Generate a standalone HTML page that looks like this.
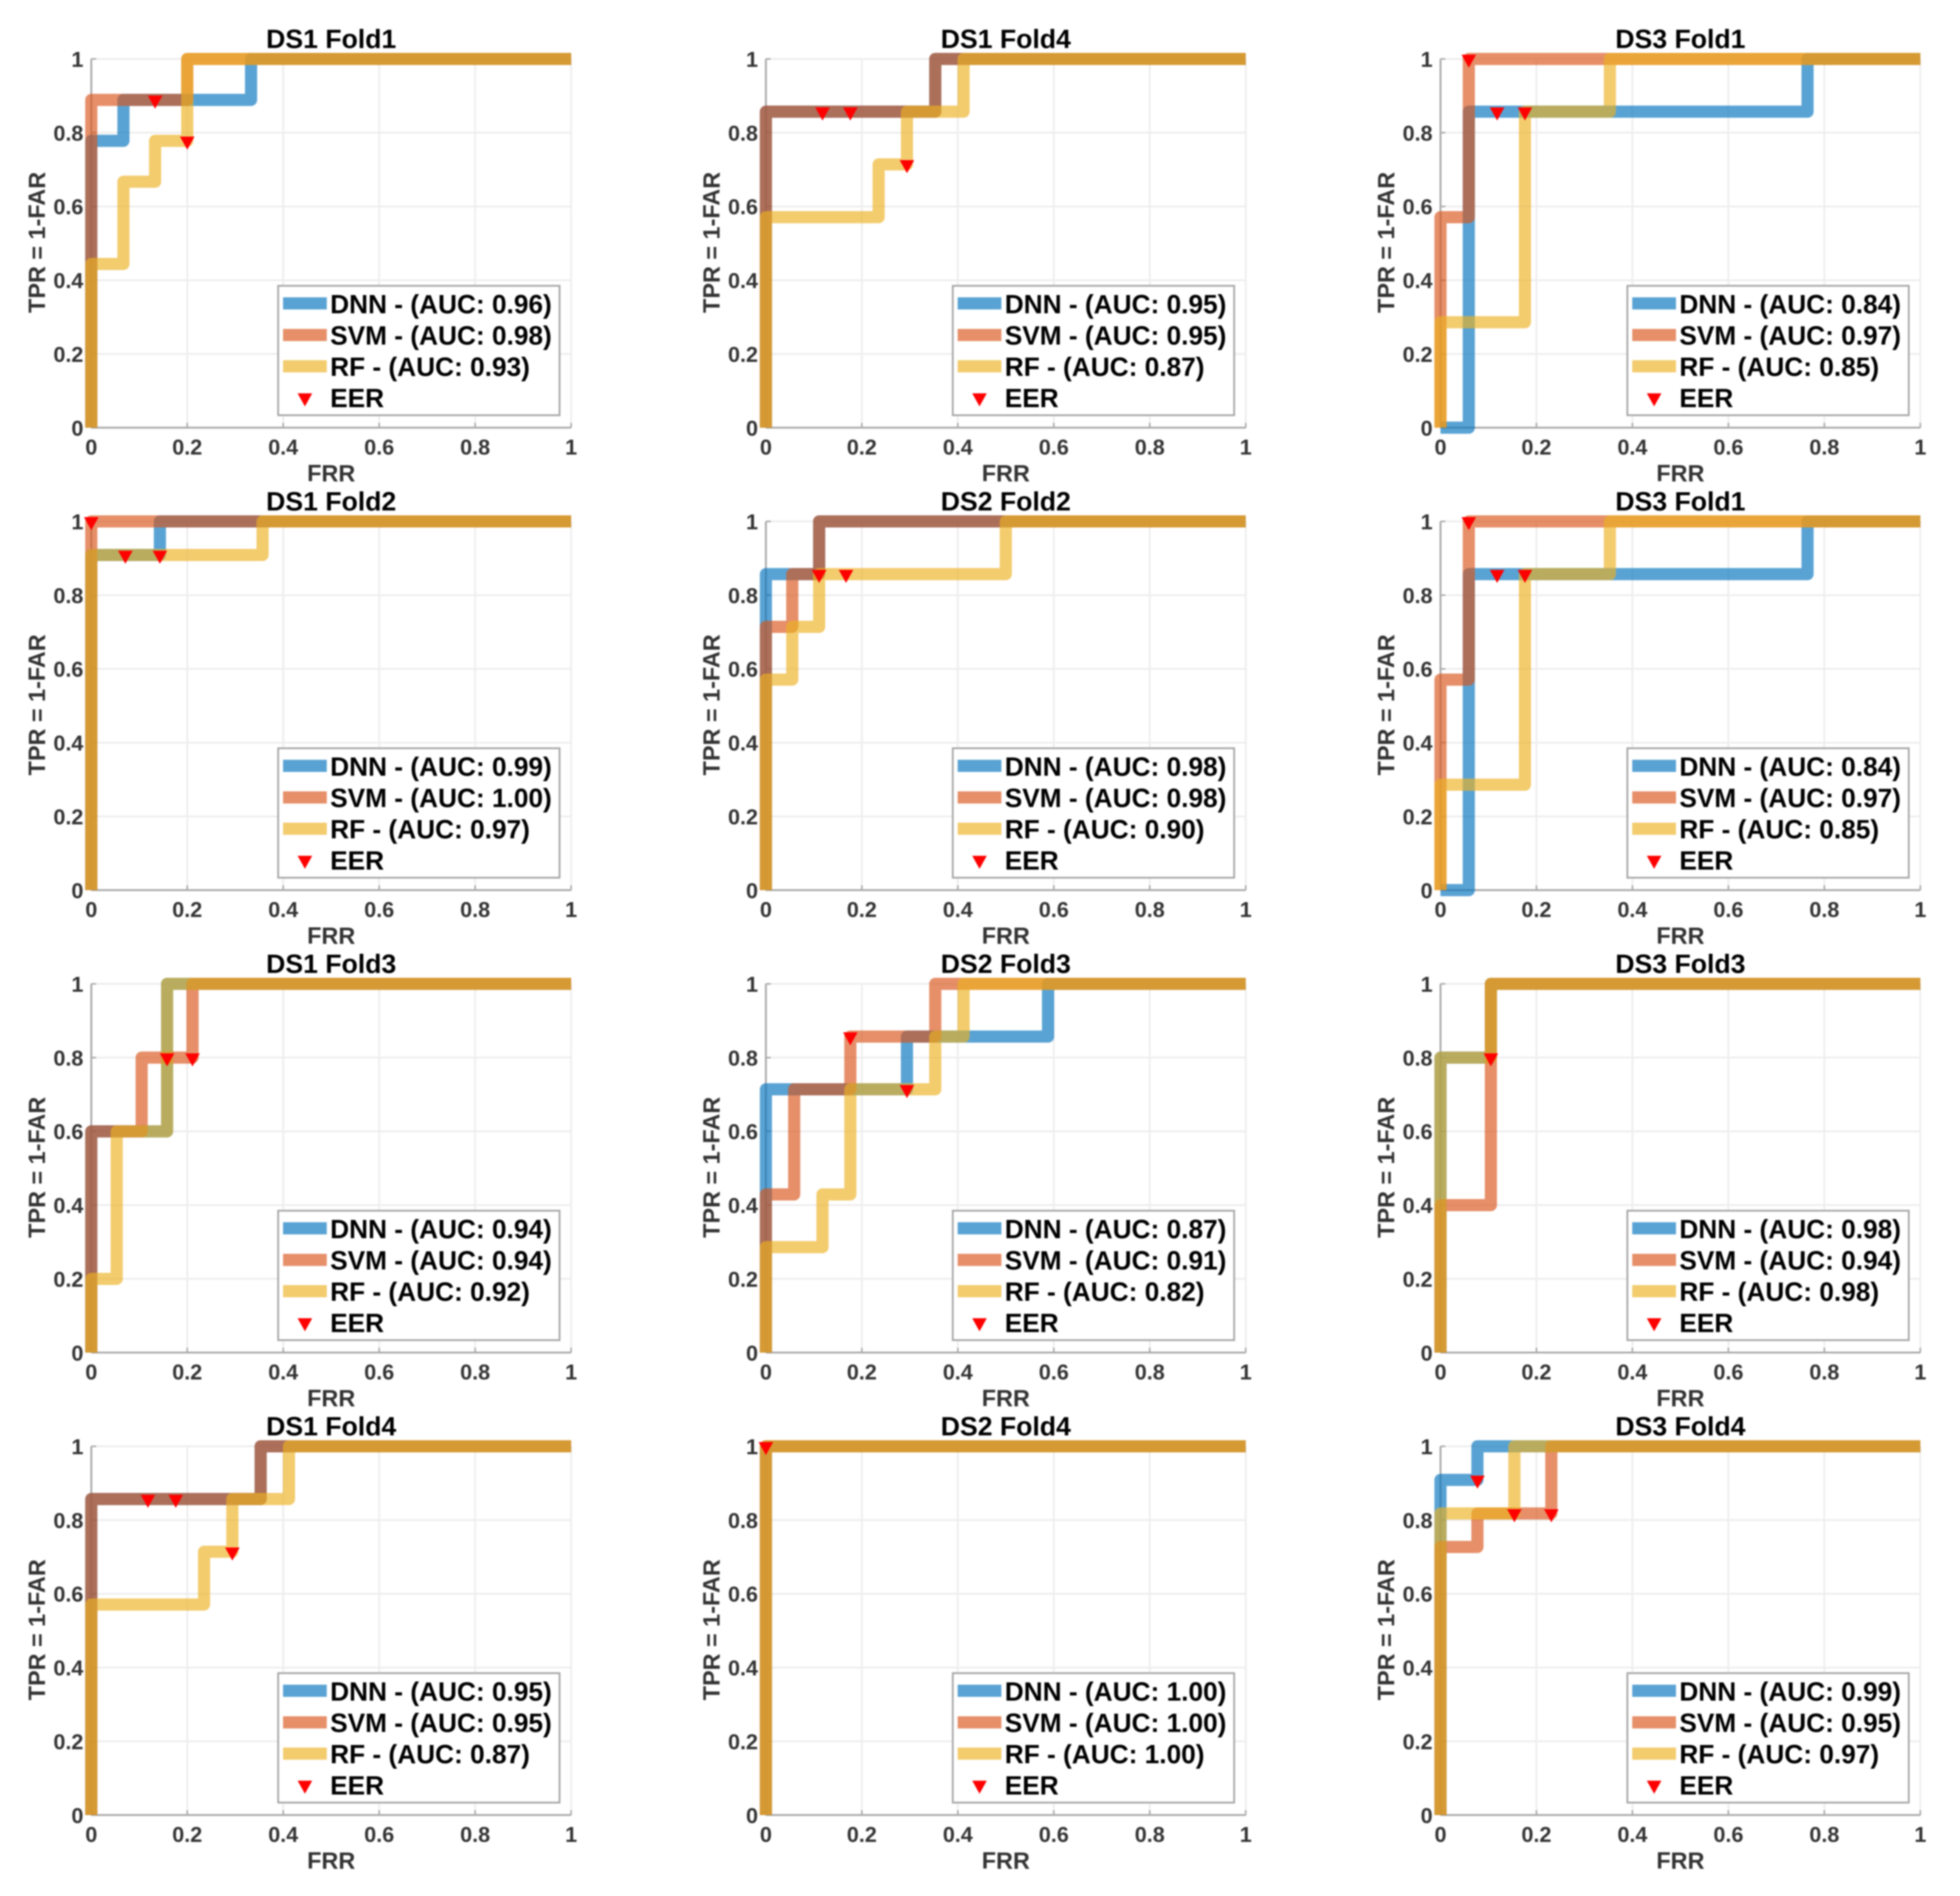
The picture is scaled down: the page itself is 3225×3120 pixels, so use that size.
<!DOCTYPE html>
<html lang="en">
<head>
<meta charset="utf-8">
<title>ROC curves per dataset and fold</title>
<style>
  html, body { margin: 0; padding: 0; background: #fff; }
  #figure { display: block; width: 3225px; height: 3120px; filter: blur(1.4px); font-family: "Liberation Sans", Arial, sans-serif; }
</style>
</head>
<body>
<svg id="figure" xmlns="http://www.w3.org/2000/svg" width="3225" height="3120" viewBox="0 0 3225 3120">
  <rect x="0" y="0" width="3225" height="3120" fill="#ffffff"/>
</svg>
<script>
// Panels are listed column by column, top to bottom.
const panelTitles = ["DS1 Fold1","DS1 Fold2","DS1 Fold3","DS1 Fold4","DS1 Fold4","DS2 Fold2","DS2 Fold3","DS2 Fold4","DS3 Fold1","DS3 Fold1","DS3 Fold3","DS3 Fold4"];
const tickValues = [0, 0.2, 0.4, 0.6, 0.8, 1];
const tickLabels = ["0", "0.2", "0.4", "0.6", "0.8", "1"];
const xAxisTitle = "FRR";
const yAxisTitle = "TPR = 1-FAR";
const aucDnn = ["0.96","0.99","0.94","0.95","0.95","0.98","0.87","1.00","0.84","0.84","0.98","0.99"];
const aucSvm = ["0.98","1.00","0.94","0.95","0.95","0.98","0.91","1.00","0.97","0.97","0.94","0.95"];
const aucRf  = ["0.93","0.97","0.92","0.87","0.87","0.90","0.82","1.00","0.85","0.85","0.98","0.97"];

const dnnFrr = [
  [0,0,0.067,0.067,0.333,0.333,1],
  [0,0,0.143,0.143,1],
  [0,0,0.158,0.158,1],
  [0,0,0.353,0.353,1],
  [0,0,0.353,0.353,1],
  [0,0,0.111,0.111,1],
  [0,0,0.294,0.294,0.588,0.588,1],
  [0,0,1],
  [0,0.059,0.059,0.765,0.765,1],
  [0,0.059,0.059,0.765,0.765,1],
  [0,0,0.105,0.105,1],
  [0,0,0.077,0.077,1]
];
const dnnTpr = [
  [0,0.778,0.778,0.889,0.889,1,1],
  [0,0.909,0.909,1,1],
  [0,0.6,0.6,1,1],
  [0,0.857,0.857,1,1],
  [0,0.857,0.857,1,1],
  [0,0.857,0.857,1,1],
  [0,0.714,0.714,0.857,0.857,1,1],
  [0,1,1],
  [0,0,0.857,0.857,1,1],
  [0,0,0.857,0.857,1,1],
  [0,0.8,0.8,1,1],
  [0,0.909,0.909,1,1]
];
const svmFrr = [
  [0,0,0.2,0.2,1],
  [0,0,1],
  [0,0,0.105,0.105,0.211,0.211,1],
  [0,0,0.353,0.353,1],
  [0,0,0.353,0.353,1],
  [0,0,0.055,0.055,0.111,0.111,1],
  [0,0,0.059,0.059,0.176,0.176,0.353,0.353,1],
  [0,0,1],
  [0,0,0.059,0.059,1],
  [0,0,0.059,0.059,1],
  [0,0,0.105,0.105,1],
  [0,0,0.077,0.077,0.231,0.231,1]
];
const svmTpr = [
  [0,0.889,0.889,1,1],
  [0,1,1],
  [0,0.6,0.6,0.8,0.8,1,1],
  [0,0.857,0.857,1,1],
  [0,0.857,0.857,1,1],
  [0,0.714,0.714,0.857,0.857,1,1],
  [0,0.429,0.429,0.714,0.714,0.857,0.857,1,1],
  [0,1,1],
  [0,0.571,0.571,1,1],
  [0,0.571,0.571,1,1],
  [0,0.4,0.4,1,1],
  [0,0.727,0.727,0.818,0.818,1,1]
];
const rfFrr = [
  [0,0,0.067,0.067,0.133,0.133,0.2,0.2,1],
  [0,0,0.357,0.357,1],
  [0,0,0.053,0.053,0.158,0.158,1],
  [0,0,0.235,0.235,0.294,0.294,0.412,0.412,1],
  [0,0,0.235,0.235,0.294,0.294,0.412,0.412,1],
  [0,0,0.055,0.055,0.111,0.111,0.5,0.5,1],
  [0,0,0.118,0.118,0.176,0.176,0.353,0.353,0.412,0.412,1],
  [0,0,1],
  [0,0,0.176,0.176,0.353,0.353,1],
  [0,0,0.176,0.176,0.353,0.353,1],
  [0,0,0.105,0.105,1],
  [0,0,0.154,0.154,1]
];
const rfTpr = [
  [0,0.444,0.444,0.667,0.667,0.778,0.778,1,1],
  [0,0.909,0.909,1,1],
  [0,0.2,0.2,0.6,0.6,1,1],
  [0,0.571,0.571,0.714,0.714,0.857,0.857,1,1],
  [0,0.571,0.571,0.714,0.714,0.857,0.857,1,1],
  [0,0.571,0.571,0.714,0.714,0.857,0.857,1,1],
  [0,0.286,0.286,0.429,0.429,0.714,0.714,0.857,0.857,1,1],
  [0,1,1],
  [0,0.286,0.286,0.857,0.857,1,1],
  [0,0.286,0.286,0.857,0.857,1,1],
  [0,0.8,0.8,1,1],
  [0,0.818,0.818,1,1]
];
const eerFrr = [
  [0.133,0.2],
  [0,0.071,0.143],
  [0.158,0.211],
  [0.118,0.176,0.294],
  [0.118,0.176,0.294],
  [0.111,0.167],
  [0.176,0.294],
  [0],
  [0.059,0.118,0.176],
  [0.059,0.118,0.176],
  [0.105],
  [0.077,0.154,0.231]
];
const eerTpr = [
  [0.889,0.778],
  [1,0.909,0.909],
  [0.8,0.8],
  [0.857,0.857,0.714],
  [0.857,0.857,0.714],
  [0.857,0.857],
  [0.857,0.714],
  [1],
  [1,0.857,0.857],
  [1,0.857,0.857],
  [0.8],
  [0.909,0.818,0.818]
];

const NS = "http://www.w3.org/2000/svg";
const figure = document.getElementById("figure");
const PLOT_W = 789.5;
const PLOT_H = 606.8;
const COL_X = [150.2, 1260.2, 2370.2];
const ROW_Y = [97, 858, 1619, 2380];
const COLORS = { dnn: "#0072BD", svm: "#D95319", rf: "#EDB120" };
const GRID = "#eeeeee";
const AXIS = "#a8a8a8";
const INK = "#333333";

function make(parent, tag, attrs, text) {
  const el = document.createElementNS(NS, tag);
  for (const k in attrs) el.setAttribute(k, attrs[k]);
  if (text !== undefined) el.textContent = text;
  parent.appendChild(el);
  return el;
}

function triangle(parent, cx, cy) {
  const pts = [[cx - 12, cy - 7], [cx + 12, cy - 7], [cx, cy + 14.5]];
  return make(parent, "polygon", { points: pts.map(p => p.join(",")).join(" "), fill: "#ff0000" });
}

function drawCurve(parent, frr, tpr, color, sx, sy) {
  const pts = frr.map((f, i) => sx(f).toFixed(2) + "," + sy(tpr[i]).toFixed(2)).join(" ");
  return make(parent, "polyline", {
    points: pts, fill: "none", stroke: color, "stroke-width": 20,
    "stroke-opacity": 0.65, "stroke-linejoin": "round", "stroke-linecap": "butt"
  });
}

function drawPanel(i) {
  const col = Math.floor(i / 4);
  const row = i % 4;
  const x0 = COL_X[col];
  const yTop = ROW_Y[row];
  const yBot = yTop + PLOT_H;
  const sx = v => x0 + v * PLOT_W;
  const sy = v => yBot - v * PLOT_H;

  const g = make(figure, "g", {});
  
  

  tickValues.forEach((t, k) => {
    const gx = make(g, "line", { x1: sx(t), x2: sx(t), y1: yTop, y2: yBot, stroke: GRID, "stroke-width": 3 });
    
    
    const gy = make(g, "line", { x1: x0, x2: x0 + PLOT_W, y1: sy(t), y2: sy(t), stroke: GRID, "stroke-width": 3 });
    
    
  });

  const xAxis = make(g, "line", { x1: x0, x2: x0 + PLOT_W, y1: yBot, y2: yBot, stroke: AXIS, "stroke-width": 3 });
  
  
  const yAxis = make(g, "line", { x1: x0, x2: x0, y1: yTop, y2: yBot, stroke: AXIS, "stroke-width": 3 });
  
  

  tickValues.forEach((t, k) => {
    const tx = make(g, "line", { x1: sx(t), x2: sx(t), y1: yBot, y2: yBot - 8, stroke: AXIS, "stroke-width": 2.5 });
    
    
    const ty = make(g, "line", { x1: x0, x2: x0 + 8, y1: sy(t), y2: sy(t), stroke: AXIS, "stroke-width": 2.5 });
    
    
    const lx = make(g, "text", { x: sx(t), y: yBot + 44, "text-anchor": "middle", "font-size": 35.5, "font-weight": "bold", fill: INK }, tickLabels[k]);
    
    
    const ly = make(g, "text", { x: x0 - 13, y: sy(t) + 13, "text-anchor": "end", "font-size": 35.5, "font-weight": "bold", fill: INK }, tickLabels[k]);
    
    
  });

  const title = make(g, "text", { x: x0 + PLOT_W / 2, y: yTop - 18, "text-anchor": "middle", "font-size": 43.8, "font-weight": "bold", fill: "#000000" }, panelTitles[i]);
  
  

  const xt = make(g, "text", { x: x0 + PLOT_W / 2, y: yBot + 88, "text-anchor": "middle", "font-size": 38.5, "font-weight": "bold", fill: INK }, xAxisTitle);
  
  

  const yCenter = (yTop + yBot) / 2 - 1.5;
  const yt = make(g, "text", { x: 0, y: 0, transform: "translate(" + (x0 - 76) + "," + yCenter + ") rotate(-90)", "text-anchor": "middle", "font-size": 38.5, "font-weight": "bold", fill: INK }, yAxisTitle);
  
  

  const dnnLine = drawCurve(g, dnnFrr[i], dnnTpr[i], COLORS.dnn, sx, sy);
  
  
  const svmLine = drawCurve(g, svmFrr[i], svmTpr[i], COLORS.svm, sx, sy);
  
  
  const rfLine = drawCurve(g, rfFrr[i], rfTpr[i], COLORS.rf, sx, sy);
  
  

  eerFrr[i].forEach((f, k) => {
    const m = triangle(g, sx(f), sy(eerTpr[i][k]));
    
    
  });

  const lx = x0 + 307.5;
  const ly = yBot - 233.5;
  const legend = make(g, "g", {});
  
  
  const box = make(legend, "rect", { x: lx, y: ly, width: 463, height: 213, fill: "#ffffff", stroke: AXIS, "stroke-width": 3 });
  
  

  const s1 = make(legend, "line", { x1: lx + 8, x2: lx + 80, y1: ly + 29, y2: ly + 29, stroke: COLORS.dnn, "stroke-width": 20, "stroke-opacity": 0.65 });
  
  
  const t1 = make(legend, "text", { x: lx + 85.5, y: ly + 45, "font-size": 43.2, "font-weight": "bold", fill: "#000000" }, "DNN - (AUC: " + aucDnn[i] + ")");
  
  

  const s2 = make(legend, "line", { x1: lx + 8, x2: lx + 80, y1: ly + 81, y2: ly + 81, stroke: COLORS.svm, "stroke-width": 20, "stroke-opacity": 0.65 });
  
  
  const t2 = make(legend, "text", { x: lx + 85.5, y: ly + 96.5, "font-size": 43.2, "font-weight": "bold", fill: "#000000" }, "SVM - (AUC: " + aucSvm[i] + ")");
  
  

  const s3 = make(legend, "line", { x1: lx + 8, x2: lx + 80, y1: ly + 132.5, y2: ly + 132.5, stroke: COLORS.rf, "stroke-width": 20, "stroke-opacity": 0.65 });
  
  
  const t3 = make(legend, "text", { x: lx + 85.5, y: ly + 148, "font-size": 43.2, "font-weight": "bold", fill: "#000000" }, "RF - (AUC: " + aucRf[i] + ")");
  
  

  const s4 = triangle(legend, lx + 44, ly + 184);
  
  
  const t4 = make(legend, "text", { x: lx + 85.5, y: ly + 199.5, "font-size": 43.2, "font-weight": "bold", fill: "#000000" }, "EER");
  
  
}

panelTitles.forEach((_, i) => drawPanel(i));
</script>
</body>
</html>
